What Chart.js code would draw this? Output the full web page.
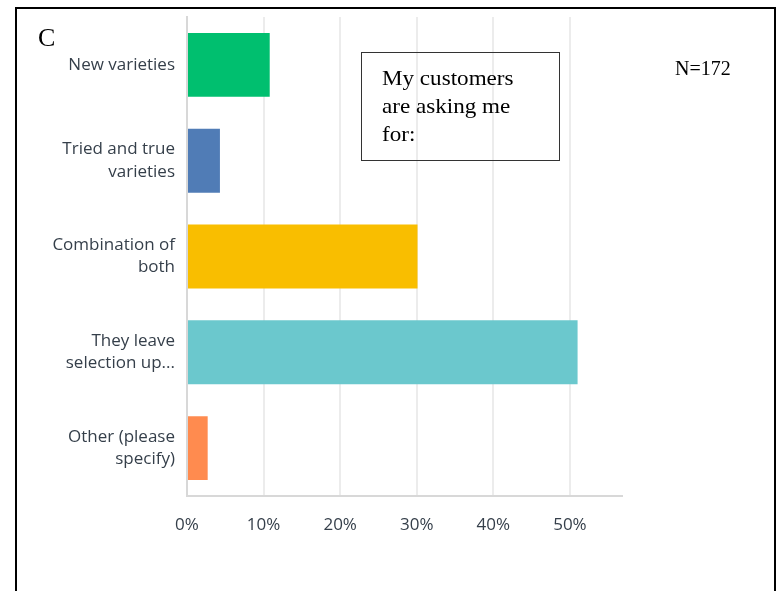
<!DOCTYPE html>
<html>
<head>
<meta charset="utf-8">
<script src="https://cdn.jsdelivr.net/npm/chart.js@4"></script>
<style>
  html, body { margin: 0; padding: 0; background: #fff; }
  #wrap { position: relative; width: 782px; height: 591px; overflow: hidden; }
  #myChart { position: absolute; left: 0; top: 0; }
  .frame {
    position: absolute; left: 15px; top: 7px; width: 757px; height: 600px;
    border: 2px solid #000; border-bottom: none;
  }
  .serif { position: absolute; font-family: "Liberation Serif", "Times New Roman", serif; color: #000; }
  .letter { left: 38px; top: 23px; font-size: 26px; }
  .note {
    left: 361px; top: 52px; width: 199px; height: 109px; box-sizing: border-box;
    border: 1px solid #333; padding: 11px 0 0 20px; font-size: 21px; line-height: 28px;
  }
  .note span { display: inline-block; transform: scaleX(1.1); transform-origin: left; }
  .count { left: 675px; top: 57px; font-size: 20px; }
</style>
</head>
<body>
<div id="wrap">
  <canvas id="myChart" width="782" height="591"></canvas>
  <div class="frame"></div>
  <div class="serif letter">C</div>
  <div class="serif note"><span>My customers</span><br><span>are asking me</span><br><span>for:</span></div>
  <div class="serif count">N=172</div>
</div>
<script>
// answer options and share of respondents (%)
const labels = [
  "New varieties",
  ["Tried and true", "varieties"],
  ["Combination of", "both"],
  ["They leave", "selection up..."],
  ["Other (please", "specify)"],
];
const values = [10.8, 4.3, 30.1, 51.0, 2.7];
const colors = ["#00bf6f", "#507cb6", "#f9be00", "#6bc8cd", "#ff8b4f"];
const tickValues = [0, 10, 20, 30, 40, 50];
const tickLabels = ["0%", "10%", "20%", "30%", "40%", "50%"];

const data = {
  labels: labels,
  datasets: [
    {
      data: values,
      backgroundColor: colors,
      borderWidth: 0,
      barPercentage: 0.667,
      categoryPercentage: 1,
    },
  ],
};

const config = {
  type: "bar",
  data,
  options: {
    indexAxis: "y",
    responsive: false,
    animation: false,
    layout: { padding: { top: 17, right: 160, left: 0, bottom: 0 } },
    plugins: { legend: { display: false }, tooltip: { enabled: false } },
    scales: {
      x: {
        min: 0,
        max: 56.8,
        ticks: {
          padding: 19,
          autoSkip: false,
          maxRotation: 0,
          color: "#353f4a",
          font: { family: "Open Sans", size: 17 },
          callback: (v, i) => tickLabels[i],
        },
        // only the round steps get a tick and a gridline, not the axis end
        afterBuildTicks: (scale) => {
          scale.ticks = tickValues.map((v) => ({ value: v }));
        },
        afterFit: (scale) => { scale.height = 95; },
        grid: { color: "#ececec", lineWidth: 2, drawTicks: false },
        border: { color: "#d8d8d8", width: 2 },
      },
      y: {
        ticks: {
          padding: 12,
          color: "#353f4a",
          font: { family: "Open Sans", size: 17, lineHeight: 1.3 },
        },
        // fixed label column, no extra room above/below the first and last label
        afterFit: (scale) => {
          scale.width = 187;
          scale.paddingTop = 0;
          scale.paddingBottom = 0;
        },
        grid: { display: false, drawTicks: false },
        border: { color: "#d8d8d8", width: 2 },
      },
    },
  },
};

const myChart = new Chart(document.getElementById("myChart"), config);
</script>
</body>
</html>
